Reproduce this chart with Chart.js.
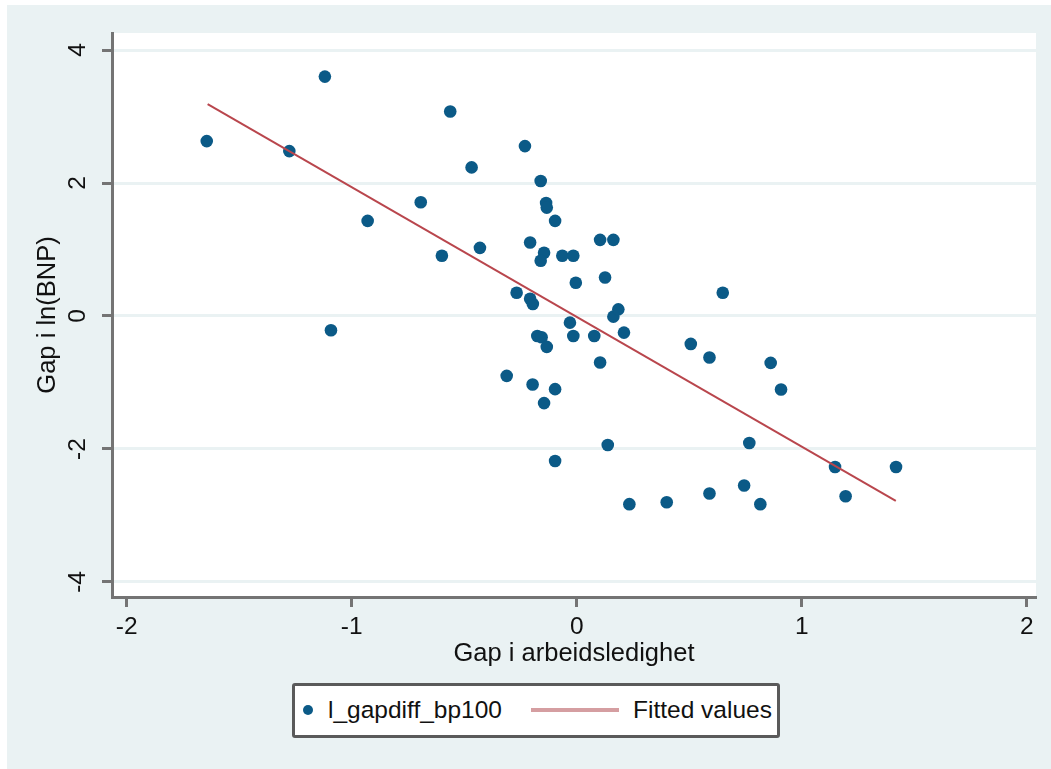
<!DOCTYPE html>
<html>
<head>
<meta charset="utf-8">
<script src="https://cdn.jsdelivr.net/npm/chart.js@4.4.0/dist/chart.umd.min.js"></script>
<style>
  html, body { margin: 0; padding: 0; background: #ffffff; }
  #wrap { position: relative; width: 1051px; height: 769px; overflow: hidden; }
  #chart { position: absolute; left: 0; top: 0; }
  #legend {
    position: absolute; left: 292px; top: 683px; width: 482px; height: 49px;
    border: 3px solid #5a5a5a; border-radius: 3px; background: #ffffff;
    font-family: "Liberation Sans", Arial, sans-serif; font-size: 24.5px; color: #111111;
  }
  #legend .dot { position: absolute; left: 8px; top: 19px; width: 10px; height: 10px; border-radius: 50%; background: #0b5a87; }
  #legend .txt { position: absolute; top: 10px; line-height: 28px; white-space: nowrap; }
  #legend .ln { position: absolute; left: 236px; top: 22px; width: 88px; height: 4px; background: #d59ea1; }
</style>
</head>
<body>
<div id="wrap">
  <canvas id="chart" width="1051" height="769"></canvas>
  <div id="legend">
    <div class="dot"></div>
    <div class="txt" style="left:33px">l_gapdiff_bp100</div>
    <div class="ln"></div>
    <div class="txt" style="left:338px">Fitted values</div>
  </div>
</div>
<script>
// Unemployment gap (x) and log-GDP gap (y), one pair per observation
const gapUnemployment = [
  -1.644, -1.277, -1.119, -1.092, -0.929, -0.693, -0.599, -0.562, -0.467, -0.430,
  -0.311, -0.267, -0.230, -0.207, -0.207, -0.195, -0.196, -0.175, -0.160, -0.156,
  -0.145, -0.160, -0.136, -0.133, -0.133, -0.145, -0.096, -0.096, -0.096, -0.064,
  -0.015, -0.015, -0.004, -0.030, 0.078, 0.104, 0.104, 0.126, 0.138, 0.163,
  0.163, 0.185, 0.210, 0.234, 0.400, 0.507, 0.590, 0.590, 0.649, 0.744,
  0.767, 0.816, 0.862, 0.908, 1.148, 1.195, 1.419
];
const gapLnGdp = [
  2.63, 2.48, 3.60, -0.215, 1.43, 1.71, 0.905, 3.075, 2.235, 1.025,
  -0.90, 0.35, 2.555, 1.105, 0.26, 0.18, -1.03, -0.30, 2.03, -0.32,
  0.95, 0.83, 1.70, 1.63, -0.465, -1.31, -1.10, 1.43, -2.18, 0.905,
  0.905, -0.30, 0.50, -0.10, -0.30, 1.145, -0.70, 0.58, -1.94, 1.145,
  -0.01, 0.10, -0.25, -2.83, -2.80, -0.42, -0.625, -2.67, 0.35, -2.55,
  -1.91, -2.83, -0.705, -1.105, -2.27, -2.71, -2.27
];

// Fitted regression line, end points
const fittedX = [-1.640, 1.418];
const fittedY = [3.187, -2.780];

// Axis ticks
const xTicks = [-2, -1, 0, 1, 2];
const yTicks = [-4, -2, 0, 2, 4];

const FONT = '"Liberation Sans", Arial, sans-serif';
const AXIS_GRAY = '#747474';
const TEXT = '#111111';

const scatterData = gapUnemployment.map((x, i) => ({ x: x, y: gapLnGdp[i] }));
const fittedData = fittedX.map((x, i) => ({ x: x, y: fittedY[i] }));

// Graph region and plot region fills
const regionFill = {
  id: 'regionFill',
  beforeDraw(chart) {
    const { ctx, chartArea } = chart;
    ctx.save();
    ctx.fillStyle = '#eaf2f3';
    ctx.fillRect(7, 5, chart.width - 7, chart.height - 5);
    ctx.fillStyle = '#ffffff';
    ctx.fillRect(chartArea.left, chartArea.top, chartArea.right - chartArea.left, chartArea.bottom - chartArea.top);
    ctx.restore();
  }
};

new Chart(document.getElementById('chart'), {
  type: 'scatter',
  data: {
    datasets: [
      {
        label: 'Fitted values',
        data: fittedData,
        showLine: true,
        borderColor: '#b9464d',
        borderWidth: 2,
        pointRadius: 0,
        fill: false,
        order: 0
      },
      {
        label: 'l_gapdiff_bp100',
        data: scatterData,
        backgroundColor: '#0b5a87',
        borderWidth: 0,
        pointRadius: 6.3,
        order: 1
      }
    ]
  },
  options: {
    responsive: false,
    devicePixelRatio: 1,
    animation: false,
    events: [],
    layout: { padding: { left: 0, right: 15, top: 33, bottom: 0 } },
    plugins: {
      legend: { display: false },
      tooltip: { enabled: false }
    },
    scales: {
      x: {
        type: 'linear',
        min: -2.065,
        max: 2.041,
        afterBuildTicks(scale) { scale.ticks = xTicks.map(v => ({ value: v })); },
        afterFit(scale) { scale.height = 172; },
        border: { display: true, color: AXIS_GRAY, width: 3 },
        grid: { display: true, drawOnChartArea: false, drawTicks: true, tickLength: 10, tickWidth: 3, tickColor: AXIS_GRAY },
        ticks: {
          autoSkip: false, maxRotation: 0, padding: 6, color: TEXT,
          font: { family: FONT, size: 24.5 },
          callback: v => String(v)
        },
        title: {
          display: true, text: 'Gap i arbeidsledighet', color: TEXT,
          font: { family: FONT, size: 25.5 },
          padding: { top: 0, bottom: 99.5 }
        }
      },
      y: {
        type: 'linear',
        min: -4.226,
        max: 4.256,
        afterBuildTicks(scale) { scale.ticks = yTicks.map(v => ({ value: v })); },
        afterFit(scale) { scale.width = 112; },
        border: { display: true, color: AXIS_GRAY, width: 3 },
        grid: { display: true, drawOnChartArea: true, color: '#eaf2f3', lineWidth: 3, drawTicks: true, tickLength: 10, tickWidth: 3, tickColor: AXIS_GRAY },
        ticks: {
          autoSkip: false, minRotation: 90, maxRotation: 90, crossAlign: 'center', padding: 13, color: TEXT,
          font: { family: FONT, size: 24.5 },
          callback: v => String(v)
        },
        title: {
          display: true, text: 'Gap i ln(BNP)', color: TEXT,
          font: { family: FONT, size: 25.5 },
          padding: { top: 33, bottom: 0 }
        }
      }
    }
  },
  plugins: [regionFill]
});
</script>
</body>
</html>
